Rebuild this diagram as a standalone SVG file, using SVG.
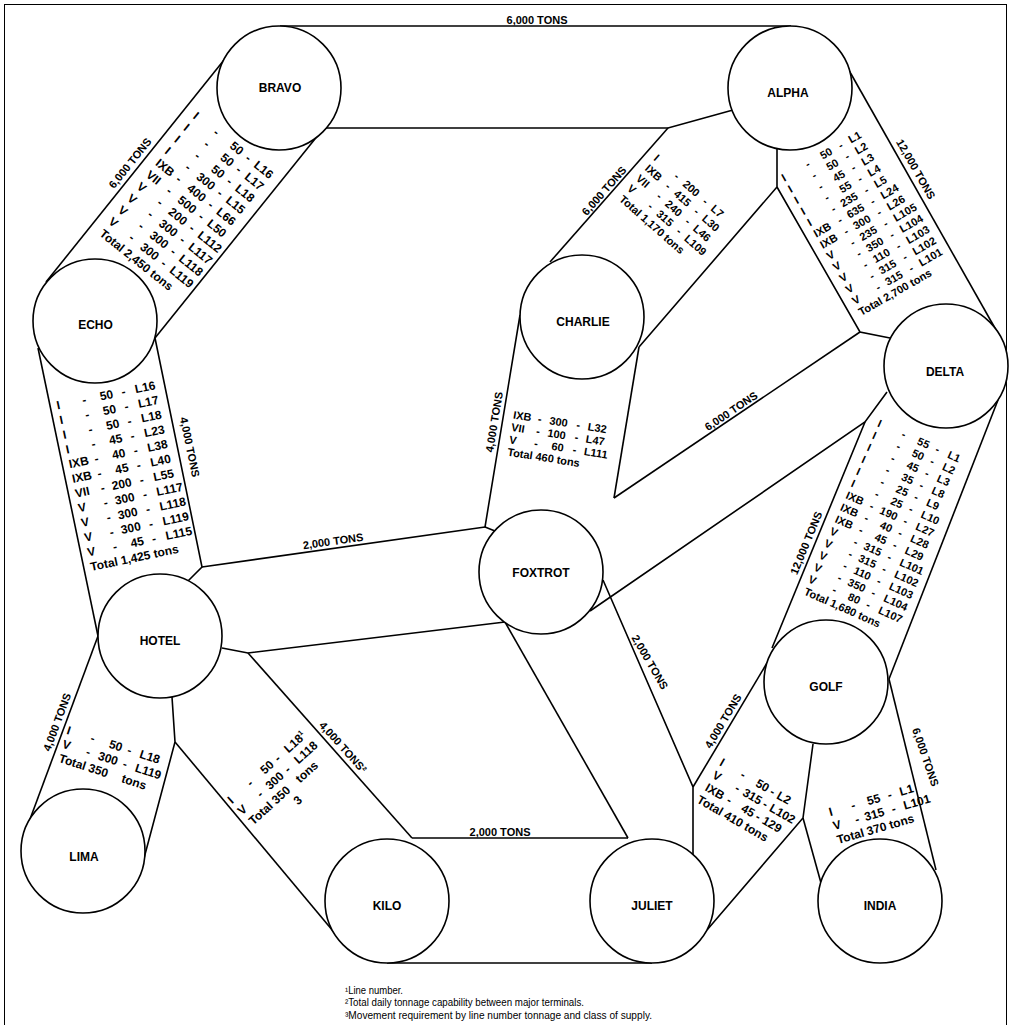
<svg xmlns="http://www.w3.org/2000/svg" width="1011" height="1025" viewBox="0 0 1011 1025">
<style>
text{font-family:"Liberation Sans",Arial,Helvetica,sans-serif;fill:#000}
.node circle{fill:#fff;stroke:#000;stroke-width:1.6}
.node text{font-size:12px;font-weight:bold;text-anchor:middle}
.cap{font-size:11px;font-weight:bold;text-anchor:middle}
.blk text{font-weight:bold}
.s11 text{font-size:11px}
.s12 text{font-size:12px}
.m{text-anchor:middle}
.e{text-anchor:end}
.sup{font-size:7px}
#connectors path{fill:none;stroke:#000;stroke-width:1.6}
.foot{font-size:10px}
</style>
<rect x="4.5" y="4.5" width="1002" height="1040" fill="none" stroke="#000" stroke-width="1"/>
<g id="connectors">
<path d="M280,26H791"/>
<path d="M326,128H668L733,110"/>
<path d="M232,50L46,282"/>
<path d="M327,124L155,338"/>
<path d="M668,128L550,262"/>
<path d="M777,149V187L639,347"/>
<path d="M777,187L860,332L890,338"/>
<path d="M842,58L1000,337"/>
<path d="M520,315L485,527L495,531"/>
<path d="M639,347L614,498"/>
<path d="M614,498L860,332"/>
<path d="M590,611L865,422L887,392"/>
<path d="M865,422L772,648"/>
<path d="M998,400L889,679"/>
<path d="M38,348L98,636"/>
<path d="M155,338L202,567L188,581"/>
<path d="M202,567L485,527"/>
<path d="M222,648L248,653L505,622"/>
<path d="M98,636L26,830"/>
<path d="M172,697L175,742L143,862"/>
<path d="M248,653L412,838"/>
<path d="M175,742L338,937"/>
<path d="M412,838H628"/>
<path d="M387,963H652"/>
<path d="M505,622L628,838"/>
<path d="M603,580L693,787V855"/>
<path d="M767,663L693,787"/>
<path d="M813,744L803,818L707,930"/>
<path d="M803,818L821,883"/>
<path d="M889,679L936,870"/>
</g>
<g id="bravo" class="node"><circle cx="279" cy="88" r="62"/><text x="280" y="92.3">BRAVO</text></g>
<g id="alpha" class="node"><circle cx="790" cy="88" r="62"/><text x="788" y="96.5">ALPHA</text></g>
<g id="echo" class="node"><circle cx="95" cy="321" r="62"/><text x="95.5" y="329">ECHO</text></g>
<g id="charlie" class="node"><circle cx="582" cy="317" r="62"/><text x="583" y="325.6">CHARLIE</text></g>
<g id="delta" class="node"><circle cx="946" cy="366" r="62"/><text x="945" y="376">DELTA</text></g>
<g id="foxtrot" class="node"><circle cx="541" cy="572" r="62"/><text x="541" y="577">FOXTROT</text></g>
<g id="hotel" class="node"><circle cx="160" cy="636" r="62"/><text x="160" y="645">HOTEL</text></g>
<g id="golf" class="node"><circle cx="826" cy="682" r="62"/><text x="826" y="691">GOLF</text></g>
<g id="lima" class="node"><circle cx="83" cy="851" r="62"/><text x="84" y="861">LIMA</text></g>
<g id="kilo" class="node"><circle cx="387" cy="901" r="62"/><text x="387" y="910">KILO</text></g>
<g id="juliet" class="node"><circle cx="652" cy="901" r="62"/><text x="652" y="910">JULIET</text></g>
<g id="india" class="node"><circle cx="880" cy="901" r="62"/><text x="880" y="910">INDIA</text></g>
<g id="capacities">
<text class="cap" transform="translate(537,20)" dy="4">6,000 TONS</text>
<text class="cap" transform="translate(130,163) rotate(-51.3)" dy="4">6,000 TONS</text>
<text class="cap" transform="translate(604,190.7) rotate(-48.6)" dy="4">6,000 TONS</text>
<text class="cap" transform="translate(916,169) rotate(60.2)" dy="4">12,000 TONS</text>
<text class="cap" transform="translate(190,447) rotate(78.2)" dy="4">4,000 TONS</text>
<text class="cap" transform="translate(494,422) rotate(-80.6)" dy="4">4,000 TONS</text>
<text class="cap" transform="translate(731,411) rotate(-34)" dy="4">6,000 TONS</text>
<text class="cap" transform="translate(333,541) rotate(-8)" dy="4">2,000 TONS</text>
<text class="cap" transform="translate(806,543) rotate(-67.6)" dy="4">12,000 TONS</text>
<text class="cap" transform="translate(650,662) rotate(59.8)" dy="4">2,000 TONS</text>
<text class="cap" transform="translate(57,722) rotate(-69.5)" dy="4">4,000 TONS</text>
<text class="cap" transform="translate(343,747) rotate(48.1)" dy="4">4,000 TONS²</text>
<text class="cap" transform="translate(500,832)" dy="4">2,000 TONS</text>
<text class="cap" transform="translate(723,721) rotate(-59.2)" dy="4">4,000 TONS</text>
<text class="cap" transform="translate(925.7,757) rotate(71)" dy="4">6,000 TONS</text>
</g>
<g id="blk-bravo-echo" class="blk s12" transform="translate(198.3,113.3) rotate(38.7)">
<text y="7.3"><tspan x="-2">I</tspan><tspan x="26" class="m">-</tspan><tspan x="58.5" class="e">50</tspan><tspan x="67" class="m">-</tspan><tspan x="76">L16</tspan></text>
<text y="22.3"><tspan x="-2">I</tspan><tspan x="26" class="m">-</tspan><tspan x="58.5" class="e">50</tspan><tspan x="67" class="m">-</tspan><tspan x="76">L17</tspan></text>
<text y="37.3"><tspan x="-2">I</tspan><tspan x="26" class="m">-</tspan><tspan x="58.5" class="e">50</tspan><tspan x="67" class="m">-</tspan><tspan x="76">L18</tspan></text>
<text y="52.3"><tspan x="-2">I</tspan><tspan x="26" class="m">-</tspan><tspan x="58.5" class="e">300</tspan><tspan x="67" class="m">-</tspan><tspan x="76">L15</tspan></text>
<text y="67.3"><tspan x="-2">IXB</tspan><tspan x="26" class="m">-</tspan><tspan x="58.5" class="e">400</tspan><tspan x="67" class="m">-</tspan><tspan x="76">L66</tspan></text>
<text y="82.3"><tspan x="-2">VII</tspan><tspan x="26" class="m">-</tspan><tspan x="58.5" class="e">500</tspan><tspan x="67" class="m">-</tspan><tspan x="76">L50</tspan></text>
<text y="97.3"><tspan x="-2">V</tspan><tspan x="26" class="m">-</tspan><tspan x="58.5" class="e">200</tspan><tspan x="67" class="m">-</tspan><tspan x="76">L112</tspan></text>
<text y="112.3"><tspan x="-2">V</tspan><tspan x="26" class="m">-</tspan><tspan x="58.5" class="e">300</tspan><tspan x="67" class="m">-</tspan><tspan x="76">L117</tspan></text>
<text y="127.3"><tspan x="-2">V</tspan><tspan x="26" class="m">-</tspan><tspan x="58.5" class="e">300</tspan><tspan x="67" class="m">-</tspan><tspan x="76">L118</tspan></text>
<text y="142.3"><tspan x="-2">V</tspan><tspan x="26" class="m">-</tspan><tspan x="58.5" class="e">300</tspan><tspan x="67" class="m">-</tspan><tspan x="76">L119</tspan></text>
<text y="157.3" x="-1.5">Total 2,450 tons</text>
</g>
<g id="blk-alpha-charlie" class="blk s11" transform="translate(658.3,155) rotate(41.4)">
<text y="7"><tspan x="-1">I</tspan><tspan x="28" class="m">-</tspan><tspan x="56" class="e">200</tspan><tspan x="66" class="m">-</tspan><tspan x="75">L7</tspan></text>
<text y="20.3"><tspan x="-1">IXB</tspan><tspan x="28" class="m">-</tspan><tspan x="56" class="e">415</tspan><tspan x="66" class="m">-</tspan><tspan x="75">L30</tspan></text>
<text y="33.6"><tspan x="-1">VII</tspan><tspan x="28" class="m">-</tspan><tspan x="56" class="e">240</tspan><tspan x="66" class="m">-</tspan><tspan x="75">L46</tspan></text>
<text y="46.9"><tspan x="-1">V</tspan><tspan x="28" class="m">-</tspan><tspan x="56" class="e">315</tspan><tspan x="66" class="m">-</tspan><tspan x="75">L109</tspan></text>
<text y="60.2" x="0">Total 1,170 tons</text>
</g>
<g id="blk-alpha-delta" class="blk s11" transform="translate(784,173.3) rotate(-29.8)">
<text y="7.5"><tspan x="-4">I</tspan><tspan x="25" class="m">-</tspan><tspan x="52.5" class="e">50</tspan><tspan x="63" class="m">-</tspan><tspan x="73">L1</tspan></text>
<text y="20.4"><tspan x="-4">I</tspan><tspan x="25" class="m">-</tspan><tspan x="52.5" class="e">50</tspan><tspan x="63" class="m">-</tspan><tspan x="73">L2</tspan></text>
<text y="33.3"><tspan x="-4">I</tspan><tspan x="25" class="m">-</tspan><tspan x="52.5" class="e">45</tspan><tspan x="63" class="m">-</tspan><tspan x="73">L3</tspan></text>
<text y="46.2"><tspan x="-4">I</tspan><tspan x="25" class="m">-</tspan><tspan x="52.5" class="e">55</tspan><tspan x="63" class="m">-</tspan><tspan x="73">L4</tspan></text>
<text y="59.1"><tspan x="-4">I</tspan><tspan x="25" class="m">-</tspan><tspan x="52.5" class="e">235</tspan><tspan x="63" class="m">-</tspan><tspan x="73">L5</tspan></text>
<text y="72"><tspan x="-4">IXB</tspan><tspan x="25" class="m">-</tspan><tspan x="52.5" class="e">635</tspan><tspan x="63" class="m">-</tspan><tspan x="73">L24</tspan></text>
<text y="84.9"><tspan x="-4">IXB</tspan><tspan x="25" class="m">-</tspan><tspan x="52.5" class="e">300</tspan><tspan x="63" class="m">-</tspan><tspan x="73">L26</tspan></text>
<text y="97.8"><tspan x="-4">V</tspan><tspan x="25" class="m">-</tspan><tspan x="52.5" class="e">235</tspan><tspan x="63" class="m">-</tspan><tspan x="73">L105</tspan></text>
<text y="110.7"><tspan x="-4">V</tspan><tspan x="25" class="m">-</tspan><tspan x="52.5" class="e">350</tspan><tspan x="63" class="m">-</tspan><tspan x="73">L104</tspan></text>
<text y="123.6"><tspan x="-4">V</tspan><tspan x="25" class="m">-</tspan><tspan x="52.5" class="e">110</tspan><tspan x="63" class="m">-</tspan><tspan x="73">L103</tspan></text>
<text y="136.5"><tspan x="-4">V</tspan><tspan x="25" class="m">-</tspan><tspan x="52.5" class="e">315</tspan><tspan x="63" class="m">-</tspan><tspan x="73">L102</tspan></text>
<text y="149.4"><tspan x="-4">V</tspan><tspan x="25" class="m">-</tspan><tspan x="52.5" class="e">315</tspan><tspan x="63" class="m">-</tspan><tspan x="73">L101</tspan></text>
<text y="162.3" x="-4">Total 2,700 tons</text>
</g>
<g id="blk-echo-hotel" class="blk s12" transform="translate(59.3,403.3) rotate(-11.8)">
<text y="5.8"><tspan x="-3">I</tspan><tspan x="25" class="m">-</tspan><tspan x="54.5" class="e">50</tspan><tspan x="65" class="m">-</tspan><tspan x="77">L16</tspan></text>
<text y="20.8"><tspan x="-3">I</tspan><tspan x="25" class="m">-</tspan><tspan x="54.5" class="e">50</tspan><tspan x="65" class="m">-</tspan><tspan x="77">L17</tspan></text>
<text y="35.8"><tspan x="-3">I</tspan><tspan x="25" class="m">-</tspan><tspan x="54.5" class="e">50</tspan><tspan x="65" class="m">-</tspan><tspan x="77">L18</tspan></text>
<text y="50.8"><tspan x="-3">I</tspan><tspan x="25" class="m">-</tspan><tspan x="54.5" class="e">45</tspan><tspan x="65" class="m">-</tspan><tspan x="77">L23</tspan></text>
<text y="65.8"><tspan x="-3">IXB</tspan><tspan x="25" class="m">-</tspan><tspan x="54.5" class="e">40</tspan><tspan x="65" class="m">-</tspan><tspan x="77">L38</tspan></text>
<text y="80.8"><tspan x="-3">IXB</tspan><tspan x="25" class="m">-</tspan><tspan x="54.5" class="e">45</tspan><tspan x="65" class="m">-</tspan><tspan x="77">L40</tspan></text>
<text y="95.8"><tspan x="-3">VII</tspan><tspan x="25" class="m">-</tspan><tspan x="54.5" class="e">200</tspan><tspan x="65" class="m">-</tspan><tspan x="77">L55</tspan></text>
<text y="110.8"><tspan x="-3">V</tspan><tspan x="25" class="m">-</tspan><tspan x="54.5" class="e">300</tspan><tspan x="65" class="m">-</tspan><tspan x="77">L117</tspan></text>
<text y="125.8"><tspan x="-3">V</tspan><tspan x="25" class="m">-</tspan><tspan x="54.5" class="e">300</tspan><tspan x="65" class="m">-</tspan><tspan x="77">L118</tspan></text>
<text y="140.8"><tspan x="-3">V</tspan><tspan x="25" class="m">-</tspan><tspan x="54.5" class="e">300</tspan><tspan x="65" class="m">-</tspan><tspan x="77">L119</tspan></text>
<text y="155.8"><tspan x="-3">V</tspan><tspan x="25" class="m">-</tspan><tspan x="54.5" class="e">45</tspan><tspan x="65" class="m">-</tspan><tspan x="77">L115</tspan></text>
<text y="170.8" x="-3">Total 1,425 tons</text>
</g>
<g id="blk-charlie-foxtrot" class="blk s11" transform="translate(513.3,415) rotate(9)">
<text y="3.5"><tspan x="0">IXB</tspan><tspan x="27" class="m">-</tspan><tspan x="55" class="e">300</tspan><tspan x="66" class="m">-</tspan><tspan x="75.5">L32</tspan></text>
<text y="16"><tspan x="0">VII</tspan><tspan x="27" class="m">-</tspan><tspan x="55" class="e">100</tspan><tspan x="66" class="m">-</tspan><tspan x="75.5">L47</tspan></text>
<text y="28.5"><tspan x="0">V</tspan><tspan x="27" class="m">-</tspan><tspan x="55" class="e">60</tspan><tspan x="66" class="m">-</tspan><tspan x="75.5">L111</tspan></text>
<text y="41" x="0">Total 460 tons</text>
</g>
<g id="blk-delta-golf" class="blk s11" transform="translate(880,421.7) rotate(24)">
<text y="5.5"><tspan x="-1">I</tspan><tspan x="27" class="m">-</tspan><tspan x="54.5" class="e">55</tspan><tspan x="64" class="m">-</tspan><tspan x="75.5">L1</tspan></text>
<text y="18.6"><tspan x="-1">I</tspan><tspan x="27" class="m">-</tspan><tspan x="54.5" class="e">50</tspan><tspan x="64" class="m">-</tspan><tspan x="75.5">L2</tspan></text>
<text y="31.7"><tspan x="-1">I</tspan><tspan x="27" class="m">-</tspan><tspan x="54.5" class="e">45</tspan><tspan x="64" class="m">-</tspan><tspan x="75.5">L3</tspan></text>
<text y="44.8"><tspan x="-1">I</tspan><tspan x="27" class="m">-</tspan><tspan x="54.5" class="e">35</tspan><tspan x="64" class="m">-</tspan><tspan x="75.5">L8</tspan></text>
<text y="57.9"><tspan x="-1">I</tspan><tspan x="27" class="m">-</tspan><tspan x="54.5" class="e">25</tspan><tspan x="64" class="m">-</tspan><tspan x="75.5">L9</tspan></text>
<text y="71"><tspan x="-1">I</tspan><tspan x="27" class="m">-</tspan><tspan x="54.5" class="e">25</tspan><tspan x="64" class="m">-</tspan><tspan x="75.5">L10</tspan></text>
<text y="84.1"><tspan x="-1">IXB</tspan><tspan x="27" class="m">-</tspan><tspan x="54.5" class="e">190</tspan><tspan x="64" class="m">-</tspan><tspan x="75.5">L27</tspan></text>
<text y="97.2"><tspan x="-1">IXB</tspan><tspan x="27" class="m">-</tspan><tspan x="54.5" class="e">40</tspan><tspan x="64" class="m">-</tspan><tspan x="75.5">L28</tspan></text>
<text y="110.3"><tspan x="-1">IXB</tspan><tspan x="27" class="m">-</tspan><tspan x="54.5" class="e">45</tspan><tspan x="64" class="m">-</tspan><tspan x="75.5">L29</tspan></text>
<text y="123.4"><tspan x="-1">V</tspan><tspan x="27" class="m">-</tspan><tspan x="54.5" class="e">315</tspan><tspan x="64" class="m">-</tspan><tspan x="75.5">L101</tspan></text>
<text y="136.5"><tspan x="-1">V</tspan><tspan x="27" class="m">-</tspan><tspan x="54.5" class="e">315</tspan><tspan x="64" class="m">-</tspan><tspan x="75.5">L102</tspan></text>
<text y="149.6"><tspan x="-1">V</tspan><tspan x="27" class="m">-</tspan><tspan x="54.5" class="e">110</tspan><tspan x="64" class="m">-</tspan><tspan x="75.5">L103</tspan></text>
<text y="162.7"><tspan x="-1">V</tspan><tspan x="27" class="m">-</tspan><tspan x="54.5" class="e">350</tspan><tspan x="64" class="m">-</tspan><tspan x="75.5">L104</tspan></text>
<text y="175.8"><tspan x="-1">V</tspan><tspan x="27" class="m">-</tspan><tspan x="54.5" class="e">80</tspan><tspan x="64" class="m">-</tspan><tspan x="75.5">L107</tspan></text>
<text y="188.9" x="0">Total 1,680 tons</text>
</g>
<g id="blk-hotel-lima" class="blk s12" transform="translate(68.3,730) rotate(18)">
<text y="4.3"><tspan x="-1">I</tspan><tspan x="26" class="m">-</tspan><tspan x="56.7" class="e">50</tspan><tspan x="64.5" class="m">-</tspan><tspan x="75.5">L18</tspan></text>
<text y="18.8"><tspan x="-1">V</tspan><tspan x="26" class="m">-</tspan><tspan x="56.7" class="e">300</tspan><tspan x="64.5" class="m">-</tspan><tspan x="75.5">L119</tspan></text>
<text y="33.3" x="0">Total 350 <tspan x="66">tons</tspan></text>
</g>
<g id="blk-hotel-kilo" class="blk s12" transform="translate(230,798.3) rotate(-42)">
<text y="5.8"><tspan x="-2.5">I</tspan><tspan x="25" class="m">-</tspan><tspan x="55" class="e">50</tspan><tspan x="62" class="m">-</tspan><tspan x="73.6">L18</tspan><tspan class="sup" dy="-5">1</tspan></text>
<text y="20.8"><tspan x="-2.5">V</tspan><tspan x="25" class="m">-</tspan><tspan x="55" class="e">300</tspan><tspan x="62" class="m">-</tspan><tspan x="73.6">L118</tspan></text>
<text y="35.8" x="-1">Total 350 <tspan x="62">tons</tspan></text>
<text y="50.8" x="49" class="m">3</text>
</g>
<g id="blk-juliet-golf" class="blk s12" transform="translate(721.7,761.7) rotate(30)">
<text y="4.3"><tspan x="-1">I</tspan><tspan x="25" class="m">-</tspan><tspan x="54" class="e">50</tspan><tspan x="59" class="m">-</tspan><tspan x="65">L2</tspan></text>
<text y="18.8"><tspan x="-1">V</tspan><tspan x="27" class="m">-</tspan><tspan x="54" class="e">315</tspan><tspan x="59" class="m">-</tspan><tspan x="65">L102</tspan></text>
<text y="33.3"><tspan x="-1">IXB</tspan><tspan x="26" class="m">-</tspan><tspan x="54" class="e">45</tspan><tspan x="59" class="m">-</tspan><tspan x="65">129</tspan></text>
<text y="47.8" x="-2">Total 410 tons</text>
</g>
<g id="blk-golf-india" class="blk s12" transform="translate(829,812) rotate(-16)">
<text y="4.3"><tspan x="0">I</tspan><tspan x="25" class="m">-</tspan><tspan x="53" class="e">55</tspan><tspan x="63" class="m">-</tspan><tspan x="73.5">L1</tspan></text>
<text y="18.8"><tspan x="0">V</tspan><tspan x="25" class="m">-</tspan><tspan x="53" class="e">315</tspan><tspan x="63" class="m">-</tspan><tspan x="73.5">L101</tspan></text>
<text y="33.3" x="0">Total 370 tons</text>
</g>
<g id="footnotes" class="foot">
<text x="345" y="993.5" textLength="58" lengthAdjust="spacingAndGlyphs">¹Line number.</text>
<text x="345" y="1005.5" textLength="239" lengthAdjust="spacingAndGlyphs">²Total daily tonnage capability between major terminals.</text>
<text x="345" y="1018.5" textLength="307" lengthAdjust="spacingAndGlyphs">³Movement requirement by line number tonnage and class of supply.</text>
</g>
</svg>
